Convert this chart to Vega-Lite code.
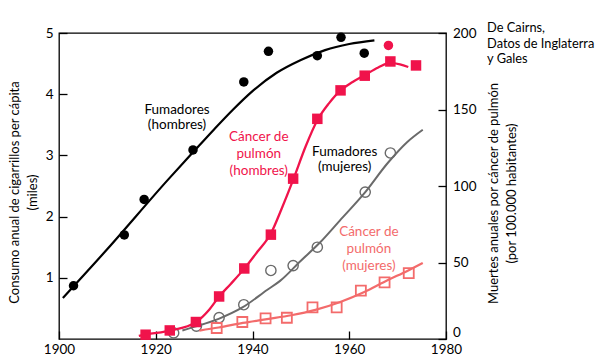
{
  "$schema": "https://vega.github.io/schema/vega-lite/v6.json",
  "width": 387,
  "height": 306,
  "autosize": "none",
  "padding": {"left": 59, "top": 33, "right": 155, "bottom": 24},
  "background": "white",
  "config": {
    "view": {"stroke": "black", "strokeWidth": 1.3},
    "font": "Lato",
    "axis": {
      "domain": false,
      "grid": false,
      "tickColor": "black",
      "tickWidth": 1.3,
      "tickSize": -8,
      "labelColor": "black",
      "labelFont": "Lato",
      "labelFontSize": 13.5,
      "titleFont": "Lato",
      "titleFontSize": 13,
      "titleFontWeight": "normal",
      "titleColor": "black",
      "labelFlush": false,
      "labelOverlap": false
    }
  },
  "datasets": {
    "fum_h_pts": [
      {"year": 1903, "v": 0.87}, {"year": 1913.5, "v": 1.70}, {"year": 1917.6, "v": 2.28},
      {"year": 1927.7, "v": 3.09}, {"year": 1938.2, "v": 4.20}, {"year": 1943.3, "v": 4.70},
      {"year": 1953.4, "v": 4.63}, {"year": 1958.3, "v": 4.93}, {"year": 1963.1, "v": 4.67}
    ],
    "fum_h_curve": [
      {"year": 1900.8, "v": 0.67}, {"year": 1910, "v": 1.47}, {"year": 1922.5, "v": 2.6},
      {"year": 1927.7, "v": 3.05}, {"year": 1932, "v": 3.42}, {"year": 1936, "v": 3.75},
      {"year": 1940, "v": 4.05}, {"year": 1945, "v": 4.35}, {"year": 1950, "v": 4.56},
      {"year": 1955, "v": 4.72}, {"year": 1960, "v": 4.82}, {"year": 1965.2, "v": 4.88}
    ],
    "fum_m_pts": [
      {"year": 1923.7, "v": 0.10}, {"year": 1928.4, "v": 0.21}, {"year": 1933.1, "v": 0.35},
      {"year": 1938.2, "v": 0.56}, {"year": 1943.8, "v": 1.12}, {"year": 1948.4, "v": 1.20},
      {"year": 1953.4, "v": 1.50}, {"year": 1963.3, "v": 2.40}, {"year": 1968.5, "v": 3.04}
    ],
    "fum_m_curve": [
      {"year": 1925.5, "v": 0.14}, {"year": 1928.5, "v": 0.21}, {"year": 1933, "v": 0.33},
      {"year": 1938, "v": 0.52}, {"year": 1943, "v": 0.80}, {"year": 1945.7, "v": 0.95},
      {"year": 1950, "v": 1.28}, {"year": 1954, "v": 1.58}, {"year": 1958, "v": 1.93},
      {"year": 1963, "v": 2.37}, {"year": 1968, "v": 2.88}, {"year": 1972, "v": 3.22},
      {"year": 1975.2, "v": 3.42}
    ],
    "can_h_pts": [
      {"year": 1917.9, "v": 2.8}, {"year": 1922.9, "v": 5.6}, {"year": 1928.3, "v": 11.1},
      {"year": 1933.1, "v": 27.8}, {"year": 1938.3, "v": 46.1}, {"year": 1943.8, "v": 68.2},
      {"year": 1948.4, "v": 104.8}, {"year": 1953.4, "v": 143.9}, {"year": 1958.2, "v": 162.5},
      {"year": 1963.2, "v": 172.1}, {"year": 1968.5, "v": 181.4}, {"year": 1973.8, "v": 178.8}
    ],
    "can_h_curve": [
      {"year": 1916.5, "v": 2}, {"year": 1918, "v": 3}, {"year": 1923, "v": 5.5},
      {"year": 1928.3, "v": 11}, {"year": 1931, "v": 19}, {"year": 1933.1, "v": 27.8},
      {"year": 1935.5, "v": 36}, {"year": 1938.3, "v": 46}, {"year": 1941, "v": 57},
      {"year": 1943.8, "v": 69}, {"year": 1946, "v": 85}, {"year": 1948.4, "v": 104},
      {"year": 1951, "v": 126}, {"year": 1953.4, "v": 143}, {"year": 1955.8, "v": 154},
      {"year": 1958.2, "v": 162.5}, {"year": 1960.7, "v": 168}, {"year": 1963.2, "v": 172.5},
      {"year": 1966, "v": 177.5}, {"year": 1968.5, "v": 180.5}, {"year": 1970.5, "v": 179.5},
      {"year": 1972.2, "v": 177.8}
    ],
    "can_m_pts": [
      {"year": 1932.6, "v": 7.2}, {"year": 1937.9, "v": 11.1}, {"year": 1942.7, "v": 13.5},
      {"year": 1947.1, "v": 13.9}, {"year": 1952.4, "v": 20.7}, {"year": 1957.4, "v": 20.7},
      {"year": 1962.4, "v": 31.6}, {"year": 1967.3, "v": 37.0}, {"year": 1972.3, "v": 43.1}
    ],
    "can_m_curve": [
      {"year": 1929, "v": 5.5}, {"year": 1933, "v": 7.5}, {"year": 1938, "v": 10.5},
      {"year": 1943, "v": 13}, {"year": 1948, "v": 15.5}, {"year": 1953, "v": 19},
      {"year": 1958, "v": 24}, {"year": 1963, "v": 30.5}, {"year": 1968, "v": 38.5},
      {"year": 1972, "v": 44.5}, {"year": 1975.2, "v": 49.7}
    ],
    "extra_pt": [{"year": 1968.1, "v": 191.9}],
    "lab_black": [
      {"year": 1924.4, "v": 3.68, "label": "Fumadores\n(hombres)"},
      {"year": 1959.05, "v": 2.995, "label": "Fumadores\n(mujeres)"}
    ],
    "lab_red": [{"year": 1941.3, "v": 3.23, "label": "Cáncer de\npulmón\n(hombres)"}],
    "lab_pink": [{"year": 1964.06, "v": 1.676, "label": "Cáncer de\npulmón\n(mujeres)"}],
    "note": [{"year": 1988.5, "v": 5.016, "label": "De Cairns,\nDatos de Inglaterra\ny Gales"}]
  },
  "layer": [
    {
      "encoding": {
        "x": {
          "field": "year", "type": "quantitative",
          "scale": {"domain": [1900, 1980], "nice": false, "zero": false},
          "axis": {"orient": "bottom", "values": [1900, 1920, 1940, 1960, 1980], "format": "d", "labelPadding": 11, "title": null}
        },
        "y": {
          "field": "v", "type": "quantitative",
          "scale": {"domain": [0, 5], "nice": false, "zero": false},
          "axis": {
            "orient": "left", "values": [1, 2, 3, 4, 5], "format": "d", "labelPadding": 14,
            "title": ["Consumo anual de cigarrillos per cápita", "(miles)"],
            "titleAngle": -90, "titleBaseline": "middle", "titleAlign": "center",
            "titleLineHeight": 18, "titleX": -44.5, "titleY": 159
          }
        }
      },
      "layer": [
        {"data": {"name": "fum_h_curve"}, "mark": {"type": "line", "color": "black", "strokeWidth": 2.2, "interpolate": "monotone"}},
        {"data": {"name": "fum_h_pts"}, "mark": {"type": "point", "shape": "circle", "filled": true, "color": "black", "opacity": 1, "size": 90}},
        {"data": {"name": "fum_m_curve"}, "mark": {"type": "line", "color": "#6a6a6a", "strokeWidth": 2, "interpolate": "monotone"}},
        {"data": {"name": "fum_m_pts"}, "mark": {"type": "point", "shape": "circle", "filled": false, "stroke": "#6a6a6a", "strokeWidth": 1.4, "opacity": 1, "size": 105}},
        {"data": {"name": "lab_black"}, "mark": {"type": "text", "color": "black", "fontSize": 13.5, "lineBreak": "\n", "lineHeight": 15.5, "align": "center", "baseline": "alphabetic"}, "encoding": {"text": {"field": "label"}}},
        {"data": {"name": "lab_red"}, "mark": {"type": "text", "color": "#f0134b", "fontSize": 13.5, "lineBreak": "\n", "lineHeight": 17, "align": "center", "baseline": "alphabetic"}, "encoding": {"text": {"field": "label"}}},
        {"data": {"name": "lab_pink"}, "mark": {"type": "text", "color": "#f36b6b", "fontSize": 13.5, "lineBreak": "\n", "lineHeight": 17, "align": "center", "baseline": "alphabetic"}, "encoding": {"text": {"field": "label"}}},
        {"data": {"name": "note"}, "mark": {"type": "text", "color": "black", "fontSize": 12.8, "lineBreak": "\n", "lineHeight": 15.5, "align": "left", "baseline": "alphabetic", "clip": false}, "encoding": {"text": {"field": "label"}}}
      ]
    },
    {
      "encoding": {
        "x": {"field": "year", "type": "quantitative"},
        "y": {
          "field": "v", "type": "quantitative",
          "scale": {"domain": [0, 200], "nice": false, "zero": false},
          "axis": {
            "orient": "right", "values": [0, 50, 100, 150, 200], "format": "d", "labelPadding": 14.5,
            "labelBaseline": {"condition": {"test": "datum.value == 0", "value": "bottom"}, "value": "middle"},
            "title": ["Muertes anuales por cáncer de pulmón", "(por 100.000 habitantes)"],
            "titleAngle": -90, "titleBaseline": "middle", "titleAlign": "center",
            "titleLineHeight": 18, "titleX": 47, "titleY": 160
          }
        }
      },
      "layer": [
        {"data": {"name": "can_h_curve"}, "mark": {"type": "line", "color": "#f0134b", "strokeWidth": 2.3, "interpolate": "monotone"}},
        {"data": {"name": "can_h_pts"}, "mark": {"type": "square", "filled": true, "color": "#f0134b", "opacity": 1, "size": 110}},
        {"data": {"name": "can_m_curve"}, "mark": {"type": "line", "color": "#f36b6b", "strokeWidth": 2.2, "interpolate": "monotone"}},
        {"data": {"name": "can_m_pts"}, "mark": {"type": "square", "filled": false, "stroke": "#f36b6b", "strokeWidth": 1.8, "opacity": 1, "size": 100}},
        {"data": {"name": "extra_pt"}, "mark": {"type": "point", "shape": "circle", "filled": true, "color": "#f0134b", "opacity": 1, "size": 90}}
      ]
    }
  ],
  "resolve": {"scale": {"y": "independent"}}
}
